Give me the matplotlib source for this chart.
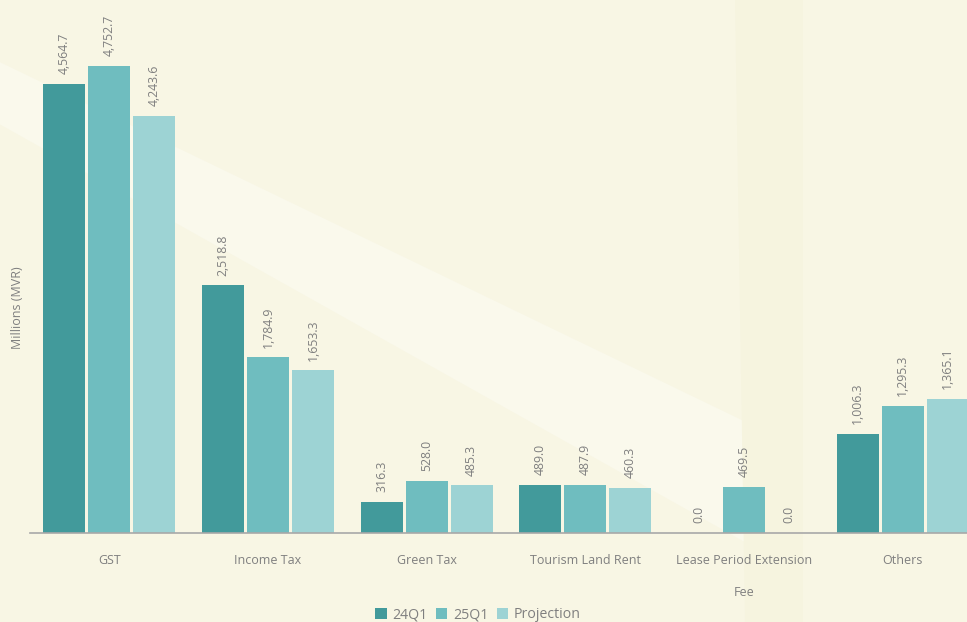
import matplotlib.pyplot as plt
from matplotlib.patches import Polygon

categories = ["GST", "Income Tax", "Green Tax", "Tourism Land Rent",
              "Lease Period Extension\nFee", "Others"]
series = ["24Q1", "25Q1", "Projection"]
q24 = [4564.7, 2518.8, 316.3, 489.0, 0.0, 1006.3]
q25 = [4752.7, 1784.9, 528.0, 487.9, 469.5, 1295.3]
proj = [4243.6, 1653.3, 485.3, 460.3, 0.0, 1365.1]
colors = ["#429a9b", "#6fbdbf", "#9dd3d4"]

bg = "#f8f6e4"
txt = "#7f7f7f"
plt.rcParams['font.family'] = ['Open Sans', 'DejaVu Sans']

fig = plt.figure(figsize=(9.67, 6.22), dpi=100, facecolor=bg)

# faint decorative shapes behind everything
fig.patches.append(Polygon([(0, 0.90), (0, 0.80), (0.78, 0.12), (0.80, 0.30)],
                           closed=True, transform=fig.transFigure,
                           facecolor="#faf9ec", edgecolor="none", zorder=-10))
fig.patches.append(Polygon([(0.76, 1.0), (0.83, 1.0), (0.83, 0.0), (0.77, 0.0)],
                           closed=True, transform=fig.transFigure,
                           facecolor="#f6f4df", edgecolor="none", zorder=-10))

# axes run past the right edge, as in the reference crop
ax = fig.add_axes([30 / 967, 89 / 622, 952 / 967, 533 / 622])
ax.set_facecolor("none")
ax.set_zorder(1)

x = range(len(categories))
w = 0.265
step = 0.283
for k, (name, vals) in enumerate(zip(series, [q24, q25, proj])):
    pos = [i + (k - 1) * step for i in x]
    ax.bar(pos, vals, width=w, color=colors[k], label=name, zorder=2)
    for p, v in zip(pos, vals):
        ax.annotate(f"{v:,.1f}", (p, v), xytext=(0, 7), textcoords="offset points",
                    rotation=90, ha="center", va="bottom", fontsize=8.8, color=txt)

ax.set_xlim(-0.5, 5.5)
ax.set_ylim(0, 5419)
ax.set_yticks([])
ax.set_xticks(list(x))
ax.set_xticklabels(categories, fontsize=9, color=txt, linespacing=2.9, va="top")
ax.tick_params(axis="x", length=0, pad=15)
for s in ["top", "right", "left"]:
    ax.spines[s].set_visible(False)
ax.spines["bottom"].set_color("#a8a8a8")
ax.spines["bottom"].set_linewidth(1.2)

fig.text(18 / 967, 1 - 308 / 622, "Millions (MVR)", rotation=90, ha="center",
         va="center", fontsize=9, color=txt)

fig.legend(loc="center", bbox_to_anchor=(478 / 967, 1 - 615 / 622), ncol=3,
           frameon=False, fontsize=10.2, labelcolor=txt, handlelength=0.8,
           handleheight=0.8, handletextpad=0.4, columnspacing=0.6)

fig.savefig("out.png", dpi=100, facecolor=bg)
